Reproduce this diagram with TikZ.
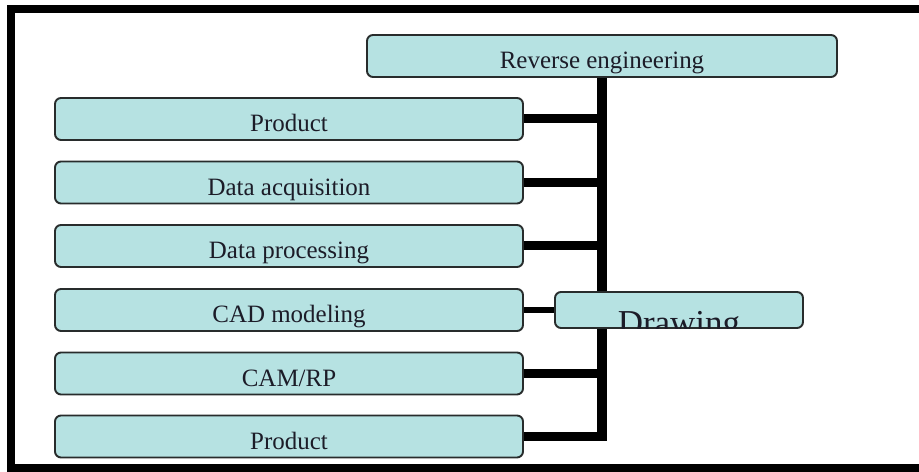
\documentclass[tikz,border=0pt]{standalone}
\usepackage{fontspec}
\setmainfont{Liberation Serif}
\definecolor{boxfill}{RGB}{182,226,226}
\definecolor{boxline}{RGB}{40,44,44}
\definecolor{boxtext}{RGB}{28,28,40}
\tikzset{
  blok/.style={draw=boxline, line width=1.1pt, fill=boxfill, rounded corners=0.12cm,
    inner sep=0pt, text height=0.68cm, text depth=0.16cm, text=boxtext,
    font=\fontsize{14.2}{17}\selectfont},
  link/.style={line width=0.18cm},
  trunk/.style={line width=0.2cm}
}
\begin{document}
\begin{tikzpicture}
\useasboundingbox (0,0) rectangle (18.38,9.44);

% рамка
\draw [line width=0.16cm] (18.5,9.26) -- (0.22,9.26) -- (0.22,0.08) -- (18.5,0.08);

% блоки
\node [blok, minimum width=9.4cm] (rev) at (12.04,8.32) {Reverse engineering};
\node [blok, minimum width=9.36cm] (prod) at (5.78,7.06) {Product};
\node [blok, minimum width=9.36cm] (acq) at (5.78,5.79) {Data acquisition};
\node [blok, minimum width=9.36cm] (proc) at (5.78,4.52) {Data processing};
\node [blok, minimum width=9.36cm] (cad) at (5.78,3.24) {CAD modeling};
\node [blok, minimum width=9.36cm] (cam) at (5.78,1.97) {CAM/RP};
\node [blok, minimum width=9.36cm] (prodb) at (5.78,0.71) {Product};

% ствол и отводы
\draw [trunk, shorten >=-0.09cm] (rev.south) -- (rev.south |- prodb.east);
\draw [link] (prod.east) -- (prod.east -| rev.south);
\draw [link] (acq.east) -- (acq.east -| rev.south);
\draw [link] (proc.east) -- (proc.east -| rev.south);
\draw [link] (cam.east) -- (cam.east -| rev.south);
\draw [link] (prodb.east) -- (prodb.east -| rev.south);

% чертёж
\node [draw=boxline, line width=1.1pt, fill=boxfill, rounded corners=0.12cm,
  minimum width=4.96cm, minimum height=0.72cm, inner sep=0pt] (drw) at (13.58,3.24) {};
\begin{scope}
\clip (drw.south west) rectangle (drw.north east);
\node [anchor=base, inner sep=0pt, text=boxtext, font=\fontsize{19.9}{24}\selectfont]
  (drwtext) at (13.58,2.74) {Drawing};
\end{scope}
\draw [line width=0.12cm] (cad.east) -- (drw.west);
\end{tikzpicture}
\end{document}
